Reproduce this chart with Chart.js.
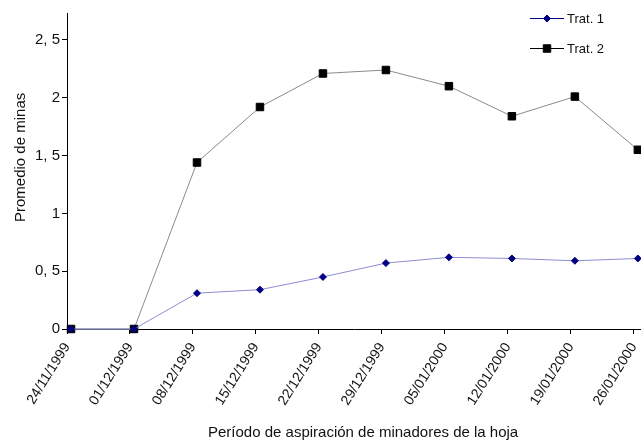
<!DOCTYPE html>
<html>
<head>
<meta charset="utf-8">
<script src="https://cdn.jsdelivr.net/npm/chart.js@4/dist/chart.umd.min.js"></script>
<style>
  html, body { margin: 0; padding: 0; background: #fff; }
  #wrap { width: 641px; height: 442px; position: relative; }
</style>
</head>
<body>
<div id="wrap"><canvas id="chart"></canvas></div>
<script>
// Promedio de minas por fecha de aspiración, dos tratamientos

const dates = ['24/11/1999', '01/12/1999', '08/12/1999', '15/12/1999', '22/12/1999',
               '29/12/1999', '05/01/2000', '12/01/2000', '19/01/2000', '26/01/2000'];
const trat1 = [0, 0, 0.31, 0.34, 0.45, 0.57, 0.62, 0.61, 0.59, 0.61];
const trat2 = [0, 0, 1.44, 1.92, 2.21, 2.24, 2.10, 1.84, 2.01, 1.55];
const yTicks = [0, 0.5, 1, 1.5, 2, 2.5];
const yTickLabels = ['0', '0, 5', '1', '1, 5', '2', '2, 5'];

const FONT = '"Liberation Sans", Arial, sans-serif';
const TICK_SHIFT = 0.064;   // axis ticks sit a little left of the points

// axis titles and the small legend in the top-right corner
const decorPlugin = {
    id: 'decor',
    afterDraw(chart) {
        const ctx = chart.ctx;
        ctx.save();
        ctx.fillStyle = '#111';
        ctx.font = '15px ' + FONT;
        ctx.textBaseline = 'alphabetic';
        ctx.textAlign = 'left';
        ctx.fillText('Período de aspiración de minadores de la hoja', 208, 437);

        ctx.save();
        ctx.translate(25, 222);
        ctx.rotate(-Math.PI / 2);
        ctx.fillText('Promedio de minas', 0, 0);
        ctx.restore();

        const legendColors = ['#000080', '#000000'];
        chart.data.datasets.forEach((ds, i) => {
            const y = 18 + 30 * i;
            ctx.strokeStyle = legendColors[i];
            ctx.lineWidth = 1;
            ctx.beginPath();
            ctx.moveTo(530, y + 0.5);
            ctx.lineTo(564, y + 0.5);
            ctx.stroke();
            ctx.fillStyle = ds.pointBackgroundColor;
            ctx.strokeStyle = ds.pointBorderColor;
            ctx.lineWidth = ds.pointBorderWidth;
            Chart.helpers.drawPoint(ctx, {
                pointStyle: ds.pointStyle,
                radius: ds.pointRadius,
                borderWidth: ds.pointBorderWidth,
                rotation: 0
            }, 547, y + 0.5);
            ctx.fillStyle = '#111';
            ctx.font = '13px ' + FONT;
            ctx.textBaseline = 'middle';
            ctx.fillText(ds.label, 567, y + 1);
        });
        ctx.restore();
    }
};

new Chart(document.getElementById('chart'), {
    type: 'line',
    data: {
        datasets: [
            {
                label: 'Trat. 1',
                data: trat1.map((v, i) => ({ x: i, y: v })),
                borderColor: '#8c8cd2',
                borderWidth: 1,
                pointStyle: 'rectRot',
                pointRadius: 3.5,
                pointBorderWidth: 1,
                pointBackgroundColor: '#000080',
                pointBorderColor: '#000080',
                tension: 0,
                clip: false
            },
            {
                label: 'Trat. 2',
                data: trat2.map((v, i) => ({ x: i, y: v })),
                borderColor: '#8a8a8a',
                borderWidth: 1,
                pointStyle: 'rect',
                pointRadius: 5.3,
                pointBorderWidth: 1,
                pointBackgroundColor: '#000000',
                pointBorderColor: '#000000',
                tension: 0,
                clip: false
            }
        ]
    },
    options: {
        responsive: true,
        maintainAspectRatio: false,
        animation: false,
        layout: {
            autoPadding: false,
            padding: { top: 13, right: 0, bottom: 0, left: 0 }
        },
        plugins: {
            legend: { display: false },
            tooltip: { enabled: false }
        },
        scales: {
            x: {
                type: 'linear',
                min: -TICK_SHIFT,
                max: 9.05,
                afterBuildTicks: scale => {
                    scale.ticks = dates.map((d, i) => ({ value: i - TICK_SHIFT }));
                },
                afterFit: scale => {
                    scale.height = 113;
                    scale.paddingLeft = 0;
                    scale.paddingRight = 0;
                },
                ticks: {
                    autoSkip: false,
                    minRotation: 58,
                    maxRotation: 58,
                    padding: 6,
                    color: '#111',
                    font: { family: FONT, size: 14 },
                    callback: value => dates[Math.round(value + TICK_SHIFT)]
                },
                grid: {
                    drawOnChartArea: false,
                    drawTicks: true,
                    tickLength: 5,
                    color: '#000'
                },
                border: { display: true, color: '#000', width: 1 }
            },
            y: {
                min: 0,
                max: 2.733,
                afterBuildTicks: scale => {
                    scale.ticks = yTicks.map(v => ({ value: v }));
                },
                afterFit: scale => {
                    scale.width = 67;
                    scale.paddingTop = 0;
                    scale.paddingBottom = 0;
                },
                ticks: {
                    padding: 2,
                    color: '#111',
                    font: { family: FONT, size: 15 },
                    callback: (value, index) => yTickLabels[index]
                },
                grid: {
                    drawOnChartArea: false,
                    drawTicks: true,
                    tickLength: 5,
                    color: '#000'
                },
                border: { display: true, color: '#000', width: 1 }
            }
        }
    },
    plugins: [decorPlugin]
});
</script>
</body>
</html>
